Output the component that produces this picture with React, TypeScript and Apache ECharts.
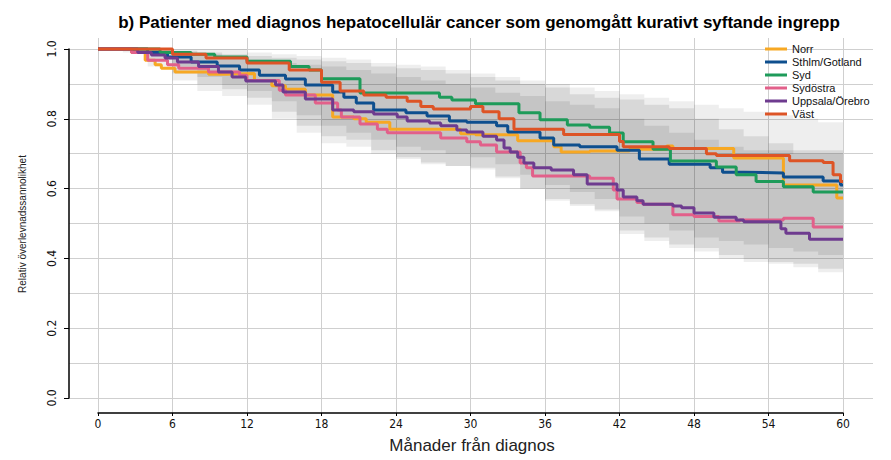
import React, { useEffect, useRef } from "react";
import * as echarts from "echarts";

const TITLE = "b) Patienter med diagnos hepatocellulär cancer som genomgått kurativt syftande ingrepp";
const X_NAME = "Månader från diagnos";
const Y_NAME = "Relativ överlevnadssannolikhet";
const X_TICKS = [0, 6, 12, 18, 24, 30, 36, 42, 48, 54, 60];
const Y_TICKS = [0, 0.2, 0.4, 0.6, 0.8, 1.0];
const Y_GRID = [0, 0.1, 0.2, 0.3, 0.4, 0.5, 0.6, 0.7, 0.8, 0.9, 1.0];

const REGIONS = ["Norr", "Sthlm/Gotland", "Syd", "Sydöstra", "Uppsala/Örebro", "Väst"];
const COLORS = ["#F7A823", "#0E4F8E", "#1E9B5A", "#E2608A", "#6E3B8F", "#DD5426"];

// [month, relative survival]
const norr = [[0,1],[2.7,0.99],[3.8,0.968],[4.6,0.955],[5.1,0.945],[6.2,0.934],[8.9,0.928],[10.3,0.93],[12.6,0.91],[14,0.895],[15.1,0.885],[16.7,0.868],[18.9,0.805],[20.6,0.8],[21.6,0.79],[23.5,0.77],[29.2,0.757],[30.4,0.754],[33.8,0.737],[36.7,0.72],[37.3,0.705],[39.6,0.708],[42.8,0.713],[45.8,0.722],[46.3,0.715],[51.2,0.688],[55.2,0.61],[59.5,0.573],[60,0.573]];
const sthlm = [[0,1],[4,0.99],[5.6,0.977],[7.5,0.963],[9.6,0.951],[11.4,0.94],[13,0.925],[15.1,0.914],[16.7,0.897],[18.9,0.877],[19.8,0.862],[20.8,0.845],[22.2,0.825],[24.8,0.817],[26.5,0.808],[28.3,0.794],[29.7,0.79],[32.1,0.78],[33,0.762],[35.6,0.745],[36.7,0.725],[38.8,0.72],[41.8,0.71],[43.6,0.685],[46,0.67],[49.3,0.66],[50.3,0.647],[52,0.645],[55.2,0.633],[58.4,0.622],[59.8,0.61],[60,0.61]];
const syd = [[0,1],[5,0.99],[7.5,0.985],[9.4,0.977],[12,0.965],[15.5,0.95],[17,0.94],[18,0.915],[21.1,0.874],[27.5,0.862],[28.5,0.854],[30.4,0.843],[33.9,0.817],[35.6,0.797],[37.8,0.782],[39.6,0.776],[41.2,0.759],[42.3,0.734],[44.7,0.713],[46.1,0.679],[49.8,0.662],[51.4,0.64],[53,0.62],[55.2,0.605],[57.6,0.59],[60,0.59]];
const sydostra = [[0,1],[2.7,0.99],[4,0.968],[5.6,0.955],[6.5,0.945],[8.9,0.934],[11.4,0.925],[12,0.91],[14.6,0.882],[15.1,0.868],[17.5,0.845],[19.3,0.825],[19.6,0.805],[21.1,0.785],[22.5,0.77],[23.3,0.76],[27.6,0.745],[29.7,0.734],[30.8,0.725],[32.1,0.705],[34,0.673],[34.5,0.66],[35,0.636],[39.6,0.63],[41.5,0.596],[41.8,0.57],[43.4,0.56],[43.9,0.555],[46.3,0.525],[48,0.52],[50,0.507],[51.7,0.51],[55.2,0.515],[57.6,0.49],[60,0.49]];
const uppsala = [[0,1],[3.2,0.99],[4.3,0.983],[5.4,0.974],[6.4,0.963],[8.1,0.95],[9.7,0.934],[10.8,0.92],[11.9,0.908],[14.3,0.897],[14.9,0.877],[16.7,0.857],[18.9,0.825],[20.6,0.82],[22.2,0.814],[24.1,0.805],[24.9,0.794],[26.7,0.788],[27.6,0.78],[28.9,0.768],[29.7,0.762],[31,0.75],[32.1,0.739],[32.7,0.716],[33.2,0.705],[33.8,0.69],[34.3,0.673],[35.1,0.66],[36.5,0.653],[38.3,0.64],[39.4,0.613],[41.8,0.596],[42.3,0.576],[43.4,0.565],[43.9,0.555],[46.3,0.55],[47,0.545],[48,0.53],[49.6,0.518],[51.4,0.51],[52,0.505],[55,0.485],[55.4,0.472],[57.3,0.455],[60,0.455]];
const vast = [[0,1],[6,0.985],[8.7,0.974],[12,0.96],[15.4,0.94],[18,0.905],[19.5,0.88],[21.4,0.868],[23.2,0.862],[24.9,0.85],[26,0.835],[27,0.828],[30,0.835],[31,0.82],[32.3,0.8],[33.5,0.77],[37.5,0.755],[42,0.735],[42.3,0.72],[46,0.715],[49,0.7],[49.8,0.695],[55.7,0.68],[58.4,0.675],[59.2,0.64],[59.8,0.62],[60,0.62]];
const LINES = [norr, sthlm, syd, sydostra, uppsala, vast];

// Confidence bands (grey), sampled every 2 months
const BAND_MONTHS = [0,2,4,6,8,10,12,14,16,18,20,22,24,26,28,30,32,34,36,38,40,42,44,46,48,50,52,54,56,58,60];
const outerLow  = [1.0,0.99,0.95,0.91,0.88,0.865,0.84,0.8,0.76,0.73,0.72,0.7,0.685,0.67,0.665,0.655,0.63,0.6,0.565,0.55,0.535,0.47,0.45,0.43,0.42,0.4,0.39,0.385,0.375,0.36,0.36];
const outerHigh = [1.0,1.0,1.0,1.0,1.0,1.0,0.99,0.985,0.98,0.975,0.97,0.96,0.955,0.95,0.94,0.93,0.92,0.91,0.9,0.89,0.88,0.87,0.86,0.85,0.84,0.83,0.82,0.81,0.8,0.79,0.78];
const midLow    = [1.0,1.0,0.97,0.93,0.9,0.885,0.86,0.82,0.78,0.75,0.74,0.71,0.69,0.675,0.665,0.66,0.635,0.6,0.57,0.555,0.54,0.48,0.46,0.44,0.43,0.41,0.4,0.39,0.385,0.37,0.37];
const midHigh   = [1.0,1.0,1.0,0.995,0.99,0.985,0.98,0.975,0.97,0.965,0.96,0.95,0.945,0.94,0.93,0.92,0.91,0.9,0.89,0.87,0.86,0.855,0.84,0.83,0.8,0.77,0.75,0.73,0.71,0.71,0.71];
const coreLow   = [1.0,1.0,0.985,0.95,0.92,0.9,0.88,0.85,0.81,0.78,0.76,0.74,0.72,0.71,0.7,0.69,0.67,0.64,0.61,0.59,0.57,0.52,0.5,0.48,0.46,0.45,0.44,0.43,0.42,0.41,0.41];
const coreHigh  = [1.0,1.0,1.0,0.99,0.985,0.98,0.97,0.96,0.955,0.95,0.94,0.93,0.92,0.91,0.9,0.89,0.875,0.865,0.85,0.84,0.83,0.8,0.78,0.76,0.74,0.72,0.71,0.71,0.7,0.7,0.7];

// layout (pixels)
const PLOT_L = 98, PLOT_R = 843, PLOT_T = 49, PLOT_B = 398;
const GRID_L = 69, GRID_R = 873, GRID_T = 38, GRID_B = 413;
const W = 891, H = 460;
const FONT = "'Liberation Sans', Arial, sans-serif";
const NARROW = "'Liberation Sans Narrow', 'DejaVu Sans Condensed', 'Liberation Sans', sans-serif";

function bandSeries(id: string, low: number[], high: number[], color: string) {
  return {
    type: "custom", name: id, silent: true, xAxisIndex: 0, yAxisIndex: 0,
    data: [[BAND_MONTHS[0], low[0], high[0]]],
    renderItem: (params: any, api: any) => {
      if (params.dataIndex !== 0) return null;
      const n = BAND_MONTHS.length;
      const pts: number[][] = [];
      for (let i = 0; i < n - 1; i++) {
        pts.push(api.coord([BAND_MONTHS[i], high[i]]));
        pts.push(api.coord([BAND_MONTHS[i + 1], high[i]]));
      }
      for (let i = n - 2; i >= 0; i--) {
        pts.push(api.coord([BAND_MONTHS[i + 1], low[i]]));
        pts.push(api.coord([BAND_MONTHS[i], low[i]]));
      }
      return { type: "polygon", shape: { points: pts }, style: { fill: color } };
    },
  };
}

export default function App() {
  const ref = useRef<HTMLDivElement>(null);
  useEffect(() => {
    if (!ref.current) return;
    const chart = echarts.init(ref.current, null, { renderer: "svg" });
    const pxX = (PLOT_R - PLOT_L) / 60;
    const pxY = PLOT_B - PLOT_T;
    const xMin = -(PLOT_L - GRID_L) / pxX;
    const xMax = 60 + (GRID_R - PLOT_R) / pxX;
    const yMin = -(GRID_B - PLOT_B) / pxY;
    const yMax = 1 + (PLOT_T - GRID_T) / pxY;

    const series: any[] = [
      bandSeries("outer", outerLow, outerHigh, "rgba(0,0,0,0.065)"),
      bandSeries("mid", midLow, midHigh, "rgba(0,0,0,0.09)"),
      bandSeries("core", coreLow, coreHigh, "rgba(0,0,0,0.085)"),
      ...REGIONS.map((name, i) => ({
        type: "line", name, step: "end", symbol: "none", xAxisIndex: 0, yAxisIndex: 0,
        data: LINES[i],
        lineStyle: { color: COLORS[i], width: 3 },
        itemStyle: { color: COLORS[i] },
      })),
    ];

    chart.setOption({
      animation: false,
      backgroundColor: "#ffffff",
      grid: [
        { left: GRID_L, top: GRID_T, width: GRID_R - GRID_L, height: GRID_B - GRID_T },
        { left: PLOT_L, top: PLOT_T, width: PLOT_R - PLOT_L, height: PLOT_B - PLOT_T },
      ],
      xAxis: [
        {
          type: "value", gridIndex: 0, min: xMin, max: xMax,
          axisLine: { show: false }, axisLabel: { show: false },
          axisTick: { show: false, customValues: X_TICKS },
          splitLine: { show: true, lineStyle: { color: "#cfcfcf", width: 1 } },
        },
        {
          type: "value", gridIndex: 1, min: 0, max: 60, interval: 6, offset: 15,
          axisLine: { show: true, onZero: false, lineStyle: { color: "#000", width: 1.5 } },
          axisTick: { show: true, length: 3, lineStyle: { color: "#000" } },
          axisLabel: { margin: 5, fontSize: 12, color: "#111", fontFamily: NARROW },
          splitLine: { show: false },
        },
      ],
      yAxis: [
        {
          type: "value", gridIndex: 0, min: yMin, max: yMax,
          axisLine: { show: false }, axisLabel: { show: false },
          axisTick: { show: false, customValues: Y_GRID },
          splitLine: { show: true, lineStyle: { color: "#cfcfcf", width: 1 } },
        },
        {
          type: "value", gridIndex: 1, min: 0, max: 1, interval: 0.2, offset: 29,
          axisLine: { show: true, onZero: false, lineStyle: { color: "#000", width: 1.5 } },
          axisTick: { show: true, length: 5, lineStyle: { color: "#000" }, customValues: Y_TICKS },
          axisLabel: {
            rotate: 90, margin: 11, fontSize: 12, color: "#111", fontFamily: NARROW,
            customValues: Y_TICKS, formatter: (v: number) => v.toFixed(1),
          },
          splitLine: { show: false },
        },
      ],
      legend: {
        data: REGIONS,
        orient: "vertical",
        left: 760, top: 37.5,
        itemWidth: 22, itemHeight: 3, itemGap: 0,
        icon: "rect",
        textStyle: { fontSize: 11, fontFamily: FONT, color: "#111", lineHeight: 13 },
      },
      graphic: [
        {
          type: "text", x: 479, y: 22,
          style: { text: TITLE, font: "bold 17px " + FONT, fill: "#000", textAlign: "center", textVerticalAlign: "middle" },
        },
        {
          type: "text", x: 472, y: 445,
          style: { text: X_NAME, font: "17px " + FONT, fill: "#222", textAlign: "center", textVerticalAlign: "middle" },
        },
        {
          type: "text", x: 22, y: 224, rotation: Math.PI / 2,
          style: { text: Y_NAME, font: "10px " + FONT, fill: "#222", textAlign: "center", textVerticalAlign: "middle" },
        },
      ],
      series,
    });
    return () => chart.dispose();
  }, []);
  return <div ref={ref} style={{ position: "fixed", left: 0, top: 0, width: W, height: H }} />;
}
